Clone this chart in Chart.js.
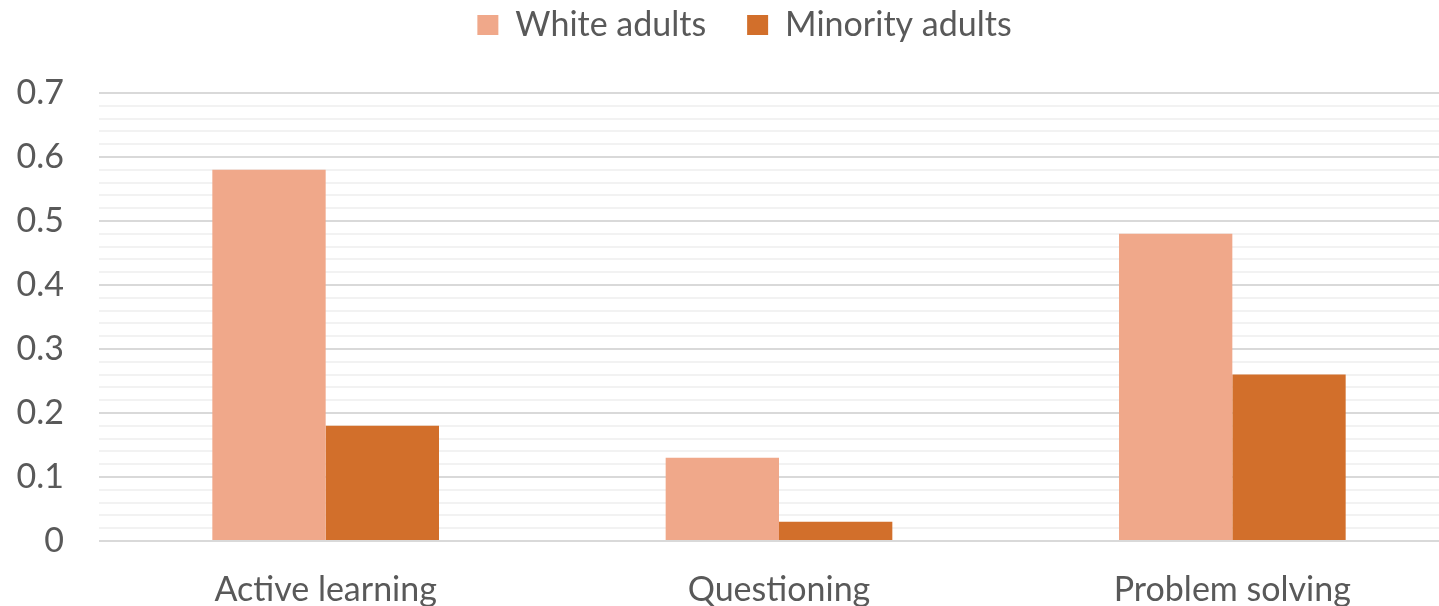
<!DOCTYPE html>
<html>
<head>
<meta charset="utf-8">
<script src="https://cdn.jsdelivr.net/npm/chart.js@4"></script>
<style>
  html, body { margin: 0; padding: 0; background: #fff; overflow: hidden; }
  #wrap { width: 1460px; height: 606px; }
</style>
</head>
<body>
<div id="wrap"><canvas id="chart"></canvas></div>
<script>
const categories = ['Active learning', 'Questioning', 'Problem solving'];
const whiteAdults = [0.58, 0.13, 0.48];
const minorityAdults = [0.18, 0.03, 0.26];
const yTicks = [0, 0.1, 0.2, 0.3, 0.4, 0.5, 0.6, 0.7];

const FONT = 'Lato, "Open Sans", sans-serif';
const TEXT = '#595959';

const isMajor = v => yTicks.some(t => Math.abs(t - v) < 1e-6);

// move the legend a little right and up from its default slot
const legendShift = {
  id: 'legendShift',
  afterLayout(chart) {
    const lg = chart.legend;
    lg.left += 15; lg.right += 15;
    lg.top -= 41; lg.bottom -= 41;
  }
};

new Chart(document.getElementById('chart'), {
  type: 'bar',
  data: {
    labels: categories,
    datasets: [
      { label: 'White adults', data: whiteAdults, backgroundColor: '#F0A88A' },
      { label: 'Minority adults', data: minorityAdults, backgroundColor: '#D26F2B' }
    ]
  },
  options: {
    responsive: true,
    maintainAspectRatio: false,
    animation: false,
    layout: { padding: { top: 8, right: 1, bottom: 0, left: 0 } },
    datasets: { bar: { categoryPercentage: 0.5, barPercentage: 1.0 } },
    plugins: {
      legend: {
        position: 'top',
        labels: {
          boxWidth: 21, boxHeight: 20, padding: 41,
          color: TEXT, font: { family: FONT, size: 34 }
        }
      },
      tooltip: { enabled: false }
    },
    scales: {
      x: {
        grid: { display: false, drawTicks: false },
        border: { display: false },
        ticks: { color: TEXT, font: { family: FONT, size: 34 }, padding: 29 },
        afterFit(s) { s.height = 65; }
      },
      y: {
        min: 0, max: 0.7,
        border: { display: false },
        grid: {
          drawTicks: false,
          lineWidth: 2,
          color: ctx => isMajor(ctx.tick.value) ? '#d9d9d9' : '#f2f2f2'
        },
        ticks: {
          stepSize: 0.02, autoSkip: false,
          color: TEXT, font: { family: FONT, size: 34 }, padding: 35,
          callback: v => isMajor(v) ? String(Math.round(v * 10) / 10) : ''
        },
        afterFit(s) { s.width = 99; }
      }
    }
  },
  plugins: [legendShift]
});
</script>
</body>
</html>
